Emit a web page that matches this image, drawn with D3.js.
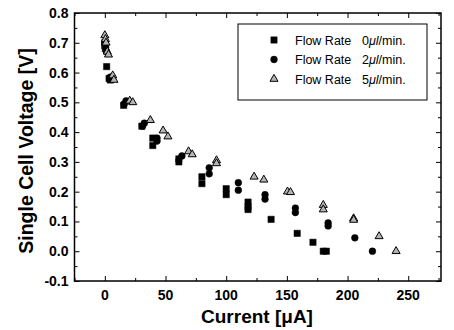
<!DOCTYPE html>
<html>
<head>
<meta charset="utf-8">
<script src="https://cdn.jsdelivr.net/npm/d3@7/dist/d3.min.js"></script>
<style>
  body { margin: 0; background: #fff; }
  svg { display: block; font-family: "Liberation Sans", Arial, sans-serif; }
</style>
</head>
<body>
<div id="chart"></div>
<script>
// Flow rate 0 ul/min (squares)
const flow0 = [
  [0, 0.70], [0, 0.69], [0.5, 0.68], [1.5, 0.62], [3.5, 0.58], [4.5, 0.575],
  [15.5, 0.49], [30.5, 0.42], [39.5, 0.38], [39.5, 0.355], [61, 0.31], [61, 0.30],
  [80, 0.25], [80, 0.227], [100, 0.21], [100, 0.19], [118, 0.165], [118, 0.15],
  [118, 0.14], [137, 0.107], [158.5, 0.06], [171.5, 0.03], [180, 0.0], [182.5, 0.0]
];
// Flow rate 2 ul/min (circles)
const flow2 = [
  [0, 0.70], [0.5, 0.685], [1.5, 0.67], [4.5, 0.585], [16, 0.495], [17.5, 0.505],
  [31, 0.42], [32.5, 0.43], [43, 0.38], [43, 0.37], [63.5, 0.32], [86, 0.28],
  [86, 0.26], [110, 0.23], [110, 0.205], [132, 0.19], [132, 0.175], [157, 0.145],
  [157, 0.13], [184, 0.095], [184, 0.085], [206, 0.045], [220.5, 0.0]
];
// Flow rate 5 ul/min (triangles)
const flow5 = [
  [0, 0.725], [0.5, 0.712], [1, 0.70], [2, 0.67], [3, 0.66], [6.5, 0.59], [7.5, 0.575],
  [20.5, 0.505], [23, 0.50], [37.5, 0.44], [48, 0.405], [52, 0.385], [69, 0.335],
  [72, 0.325], [92, 0.305], [92, 0.295], [123, 0.25], [131, 0.24], [150.5, 0.20],
  [153, 0.198], [180, 0.155], [180, 0.14], [205, 0.11], [205, 0.105], [226, 0.05],
  [240, 0.0]
];
const series = [
  { label: "0", symbol: "square", data: flow0 },
  { label: "2", symbol: "circle", data: flow2 },
  { label: "5", symbol: "triangle", data: flow5 }
];
const xTicks = [0, 50, 100, 150, 200, 250];
const yTicks = [-0.1, 0.0, 0.1, 0.2, 0.3, 0.4, 0.5, 0.6, 0.7, 0.8];

const W = 454, H = 330;
const m = { left: 74.5, right: 13, top: 13, bottom: 49 };
const pw = W - m.left - m.right, ph = H - m.top - m.bottom;

const svg = d3.select("#chart").append("svg").attr("width", W).attr("height", H);
const g = svg.append("g").attr("transform", `translate(${m.left},${m.top})`);

const x = d3.scaleLinear().domain([-25, 277]).range([0, pw]);
const y = d3.scaleLinear().domain([-0.1, 0.8]).range([ph, 0]);

const minorX = d3.range(-25, 276, 25).filter(v => v % 50 !== 0);
const minorY = d3.range(-0.05, 0.8, 0.1);

function ticks(axis, scale, vals, len) {
  return axis(scale).tickValues(vals).tickSize(len).tickFormat("");
}
function styleAxis(sel) {
  sel.select(".domain").remove();
  sel.selectAll("line").attr("stroke", "#000").attr("stroke-width", 1);
}
// inward ticks on all four sides
g.append("g").attr("transform", `translate(0,${ph})`).call(ticks(d3.axisTop, x, xTicks, 5)).call(styleAxis);
g.append("g").attr("transform", `translate(0,${ph})`).call(ticks(d3.axisTop, x, minorX, 3)).call(styleAxis);
g.append("g").call(ticks(d3.axisBottom, x, xTicks, 5)).call(styleAxis);
g.append("g").call(ticks(d3.axisBottom, x, minorX, 3)).call(styleAxis);
g.append("g").call(ticks(d3.axisRight, y, yTicks, 5)).call(styleAxis);
g.append("g").call(ticks(d3.axisRight, y, minorY, 3)).call(styleAxis);
g.append("g").attr("transform", `translate(${pw},0)`).call(ticks(d3.axisLeft, y, yTicks, 5)).call(styleAxis);
g.append("g").attr("transform", `translate(${pw},0)`).call(ticks(d3.axisLeft, y, minorY, 3)).call(styleAxis);

// frame
g.append("rect").attr("width", pw).attr("height", ph)
  .attr("fill", "none").attr("stroke", "#000").attr("stroke-width", 1.5);

// tick labels
g.selectAll(".xl").data(xTicks).enter().append("text")
  .attr("x", d => x(d)).attr("y", ph + 19)
  .attr("text-anchor", "middle").attr("font-size", 14).attr("font-weight", "bold")
  .text(d => d);
g.selectAll(".yl").data(yTicks).enter().append("text")
  .attr("x", -6).attr("y", d => y(d) + 5)
  .attr("text-anchor", "end").attr("font-size", 14).attr("font-weight", "bold")
  .text(d => d.toFixed(1));

// axis titles
svg.append("text").attr("x", 257).attr("y", H - 7)
  .attr("text-anchor", "middle").attr("font-size", 19).attr("font-weight", "bold")
  .text("Current [\u03BCA]");
svg.append("text").attr("transform", `translate(33,151) rotate(-90)`)
  .attr("text-anchor", "middle").attr("font-size", 19.5).attr("font-weight", "bold")
  .text("Single Cell Voltage [V]");

// markers
const symType = { square: d3.symbolSquare, circle: d3.symbolCircle, triangle: d3.symbolTriangle };
const symSize = { square: 40, circle: 36, triangle: 28 };
function marker(sel, s) {
  sel.attr("d", d3.symbol().type(symType[s.symbol]).size(symSize[s.symbol]))
    .attr("fill", s.symbol === "triangle" ? "#b4b4b4" : "#000")
    .attr("stroke", "#000")
    .attr("stroke-width", s.symbol === "triangle" ? 1 : 0.5);
}
series.forEach(s => {
  g.append("g").selectAll("path").data(s.data).enter().append("path")
    .attr("transform", d => `translate(${x(d[0])},${y(d[1])})`)
    .call(marker, s);
});

// legend
const lg = svg.append("g").attr("transform", "translate(238,24)");
lg.append("rect").attr("width", 189).attr("height", 76)
  .attr("fill", "#fff").attr("stroke", "#000").attr("stroke-width", 1);
series.forEach((s, i) => {
  const row = lg.append("g").attr("transform", `translate(0,${16 + i * 19.5})`);
  row.append("path").attr("transform", "translate(36,0)").call(marker, s);
  row.append("text").attr("x", 57).attr("y", 4.5).attr("font-size", 12.5).text("Flow Rate");
  const t = row.append("text").attr("x", 124).attr("y", 4.5).attr("font-size", 12.5);
  t.append("tspan").text(s.label);
  t.append("tspan").attr("font-style", "italic").text("\u03BCl");
  t.append("tspan").text("/min.");
});
</script>
</body>
</html>
